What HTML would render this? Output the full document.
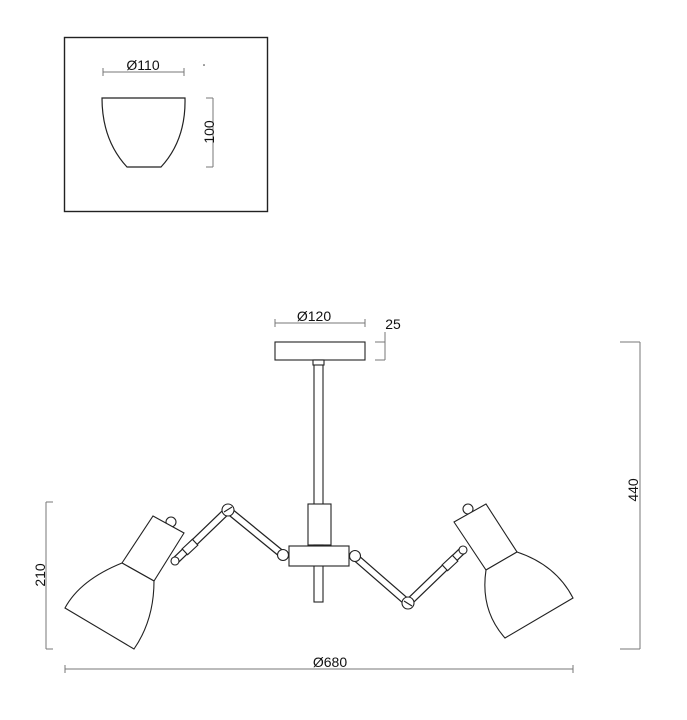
<!DOCTYPE html>
<html><head><meta charset="utf-8"><style>
html,body{margin:0;padding:0;background:#fff;}
svg{display:block;}
text{font-family:"Liberation Sans",sans-serif;fill:#111;}
</style></head><body>
<svg width="687" height="720" viewBox="0 0 687 720" xmlns="http://www.w3.org/2000/svg">
<g fill="none" stroke="#222" stroke-width="1.2">
<rect x="64.5" y="37.5" width="203" height="174" stroke-width="1.4"/>
<path d="M102 98 L185 98 Q186 140 161 167 L127 167 Q102 140 102 98 Z"/>
</g>
<g fill="none" stroke="#777" stroke-width="1">
<path d="M103 72 H184 M103 68 V76 M184 68 V76"/>
<path d="M213 98 V167 M206 98 H213 M206 167 H213"/>
<path d="M275 323 H365 M275 319 V327 M365 319 V327"/>
<path d="M385 342 V360 M375 342 H385 M375 360 H385 M385 342 L385 332"/>
<path d="M640 342 V649 M620 342 H640 M620 649 H640"/>
<path d="M46 502 V649 M46 502 H53 M46 649 H53"/>
<path d="M65 669 H573 M65 665 V673 M573 665 V673"/>
</g>
<circle cx="204" cy="65" r="0.8" fill="#333"/>
<text x="143" y="70" font-size="14" text-anchor="middle">Ø110</text>
<text x="0" y="0" font-size="14" text-anchor="middle" transform="translate(214,132) rotate(-90)">100</text>
<text x="314" y="321" font-size="14" text-anchor="middle">Ø120</text>
<text x="393" y="329" font-size="14" text-anchor="middle">25</text>
<text x="0" y="0" font-size="14" text-anchor="middle" transform="translate(638,490) rotate(-90)">440</text>
<text x="0" y="0" font-size="14" text-anchor="middle" transform="translate(45,575) rotate(-90)">210</text>
<text x="330" y="667" font-size="14" text-anchor="middle">Ø680</text>
<g fill="#fff" stroke="#222" stroke-width="1.1">
<rect x="275" y="342" width="90" height="18"/>
<rect x="314" y="360" width="9" height="145"/>
<rect x="313" y="360" width="11" height="5"/>
<rect x="308" y="504" width="23" height="41"/>
<rect x="314" y="545" width="9" height="57"/>
<path d="M175 561 L228 510" stroke-width="8" stroke="#222"/>
<path d="M175 561 L228 510" stroke-width="5.5" stroke="#fff"/>
<path d="M228 510 L283 555" stroke-width="8" stroke="#222"/>
<path d="M228 510 L283 555" stroke-width="5.5" stroke="#fff"/>
<rect x="-7" y="-4" width="14" height="8" transform="translate(190,547) rotate(-43)"/>
<circle cx="228" cy="510" r="6"/>
<path d="M224 512 L232 507" />
<circle cx="175" cy="561" r="4"/>
<circle cx="283" cy="555" r="5.5"/>
<circle cx="171" cy="522" r="5"/>
<path d="M153 516 L184 533 L154 581 L122 563 Z"/>
<path d="M122 563 Q80 580 65 608 L134 649 Q154 620 154 581 Z"/>
<path d="M354 556 L408 603" stroke-width="8" stroke="#222"/>
<path d="M354 556 L408 603" stroke-width="5.5" stroke="#fff"/>
<path d="M408 603 L463 550" stroke-width="8" stroke="#222"/>
<path d="M408 603 L463 550" stroke-width="5.5" stroke="#fff"/>
<rect x="-7" y="-4" width="14" height="8" transform="translate(450,563) rotate(-43)"/>
<circle cx="408" cy="603" r="6"/>
<path d="M404 601 L412 606"/>
<circle cx="463" cy="550" r="4"/>
<circle cx="468" cy="509" r="5"/>
<rect x="289" y="546" width="60" height="20"/>
<circle cx="355" cy="556" r="5.5"/>
<path d="M454 522 L486 504 L517 552 L486 570 Z"/>
<path d="M486 570 Q480 610 505 638 L573 598 Q556 565 517 552 Z"/>
</g>
</svg>
</body></html>
